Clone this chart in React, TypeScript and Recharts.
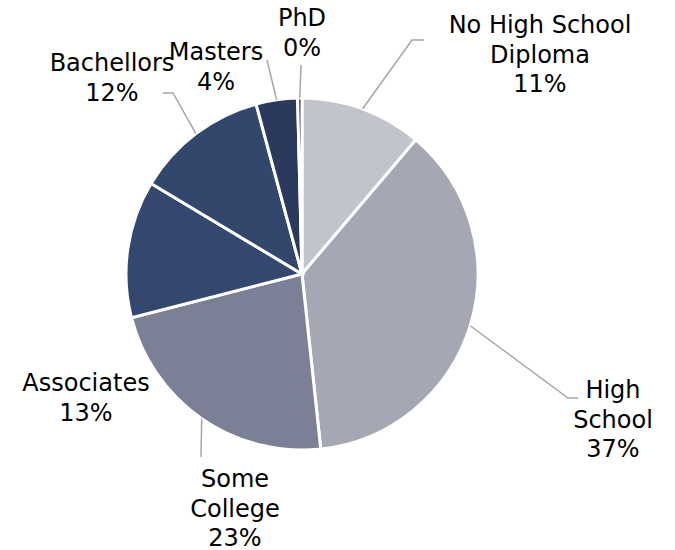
import { PieChart, Pie, Cell } from "recharts";

const categories = [
  "No High School Diploma",
  "High School",
  "Some College",
  "Associates",
  "Bachellors",
  "Masters",
  "PhD",
];
const shares = [11.2, 37.1, 22.7, 12.6, 12.2, 3.8, 0.4];
const labelLines = [
  ["No High School", "Diploma"],
  ["High", "School"],
  ["Some", "College"],
  ["Associates"],
  ["Bachellors"],
  ["Masters"],
  ["PhD"],
];

const COLORS = [
  "#c2c4cc",
  "#a5a8b4",
  "#7b8097",
  "#34486f",
  "#33466c",
  "#2b395c",
  "#283656",
];

// label placement relative to pie centre: text centre, elbow, line end
const LABEL_LAYOUT = [
  { tx: 238, ty: -249, elbow: [110, -234], end: [122, -234] },
  { tx: 311, ty: 116, elbow: [266, 124], end: [276, 124] },
  { tx: -67, ty: 205, elbow: [-101, 183], end: [-101, 183] },
  { tx: -216, ty: 109, elbow: null, end: null },
  { tx: -190, ty: -211, elbow: [-129, -181], end: [-139, -181] },
  { tx: -86, ty: -222, elbow: [-35, -214], end: [-35, -214] },
  { tx: 0, ty: -256, elbow: [-1, -209], end: [-1, -209] },
];

const data = categories.map((name, i) => ({ name, value: shares[i] }));

const RADIAN = Math.PI / 180;
const LINE_H = 29.5;

const renderLabel = (props: any) => {
  const { cx, cy, midAngle, outerRadius, percent, index } = props;
  const layout = LABEL_LAYOUT[index];
  const lines = [...labelLines[index], `${Math.round(percent * 100)}%`];
  const sx = cx + outerRadius * Math.cos(-midAngle * RADIAN);
  const sy = cy + outerRadius * Math.sin(-midAngle * RADIAN);
  return (
    <g key={`lbl-${index}`}>
      {layout.elbow && layout.end && (
        <polyline
          points={`${sx},${sy} ${cx + layout.elbow[0]},${cy + layout.elbow[1]} ${
            cx + layout.end[0]
          },${cy + layout.end[1]}`}
          fill="none"
          stroke="#a6a6a6"
          strokeWidth={1.5}
        />
      )}
      <text
        x={cx + layout.tx}
        y={cy + layout.ty}
        textAnchor="middle"
        fill="#000"
        style={{ fontFamily: "DejaVu Sans", fontSize: 24 }}
      >
        {lines.map((ln, i) => (
          <tspan
            key={i}
            x={cx + layout.tx}
            y={cy + layout.ty + i * LINE_H}
            dominantBaseline="central"
          >
            {ln}
          </tspan>
        ))}
      </text>
    </g>
  );
};

export default function App() {
  return (
    <div style={{ position: "absolute", left: 0, top: 0, width: 675, height: 550, background: "#fff" }}>
      <PieChart width={675} height={550} margin={{ top: 0, right: 0, bottom: 0, left: 0 }}>
        <Pie
          data={data}
          dataKey="value"
          cx={302}
          cy={274}
          outerRadius={176}
          startAngle={90}
          endAngle={-270}
          stroke="#ffffff"
          strokeWidth={3}
          labelLine={false}
          label={renderLabel}
          isAnimationActive={false}
        >
          {data.map((_, index) => (
            <Cell key={`cell-${index}`} fill={COLORS[index]} />
          ))}
        </Pie>
      </PieChart>
    </div>
  );
}
